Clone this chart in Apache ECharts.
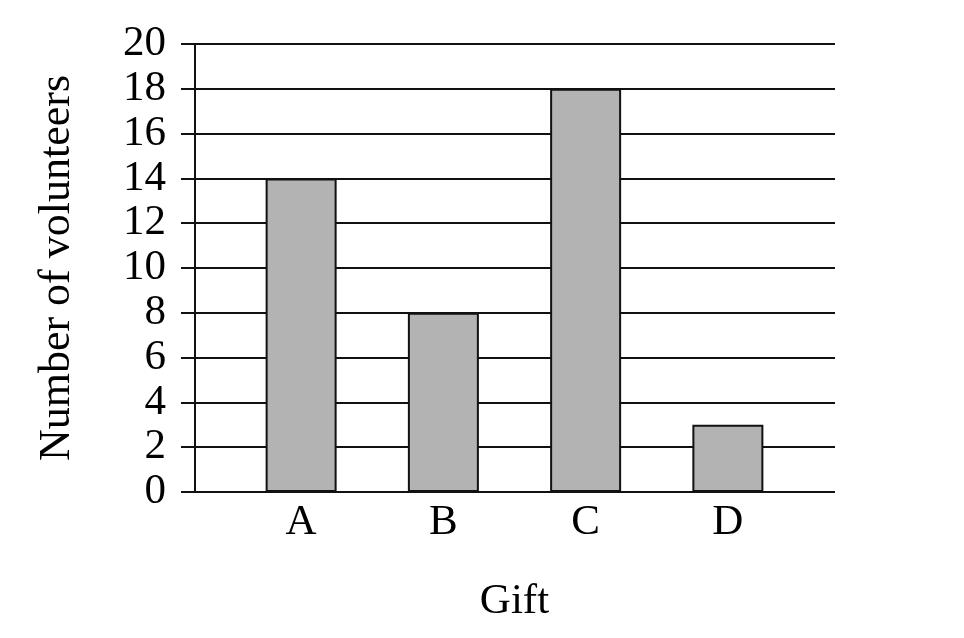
<!DOCTYPE html>
<html>
<head>
<meta charset="utf-8">
<script src="https://cdn.jsdelivr.net/npm/echarts@6/dist/echarts.min.js"></script>
<style>html,body{margin:0;padding:0;background:#fff;}#c{width:964px;height:638px;}</style>
</head>
<body>
<div id="c"></div>
<script>
const categories = ['A', 'B', 'C', 'D'];
const volunteers = [14, 8, 18, 3];
const yTitle = 'Number of volunteers';
const xTitle = 'Gift';

const font = 'Liberation Serif';
const lineColor = '#111';
const chart = echarts.init(document.getElementById('c'));
chart.setOption({
  animation: false,
  backgroundColor: '#fff',
  grid: [
    {left: 195, right: 129, top: 44, bottom: 146},
    {left: 230, right: 165, top: 44, bottom: 146}
  ],
  xAxis: [
    {type: 'value', gridIndex: 0, show: false, min: 0, max: 1},
    {
      type: 'category', gridIndex: 1, data: categories,
      axisLine: {show: false}, axisTick: {show: false},
      axisLabel: {color: '#000', fontFamily: font, fontSize: 43, margin: 9},
      name: xTitle, nameLocation: 'middle', nameGap: 88,
      nameTextStyle: {color: '#000', fontFamily: font, fontSize: 43}
    }
  ],
  yAxis: [
    {
      type: 'value', gridIndex: 0, min: 0, max: 20, interval: 2,
      axisLine: {show: true, lineStyle: {color: lineColor, width: 2}},
      axisTick: {show: true, length: 14, lineStyle: {color: lineColor, width: 2}},
      splitLine: {show: true, lineStyle: {color: lineColor, width: 1.8}},
      axisLabel: {color: '#000', fontFamily: font, fontSize: 43, margin: 29},
      name: yTitle, nameLocation: 'middle', nameGap: 116, nameRotate: 90,
      nameTextStyle: {color: '#000', fontFamily: font, fontSize: 44}
    },
    {type: 'value', gridIndex: 1, min: 0, max: 20, show: false}
  ],
  series: [{
    type: 'bar', xAxisIndex: 1, yAxisIndex: 1,
    data: volunteers, barWidth: 71,
    itemStyle: {color: '#b3b3b3', borderColor: lineColor, borderWidth: 2}
  }]
});
</script>
</body>
</html>
